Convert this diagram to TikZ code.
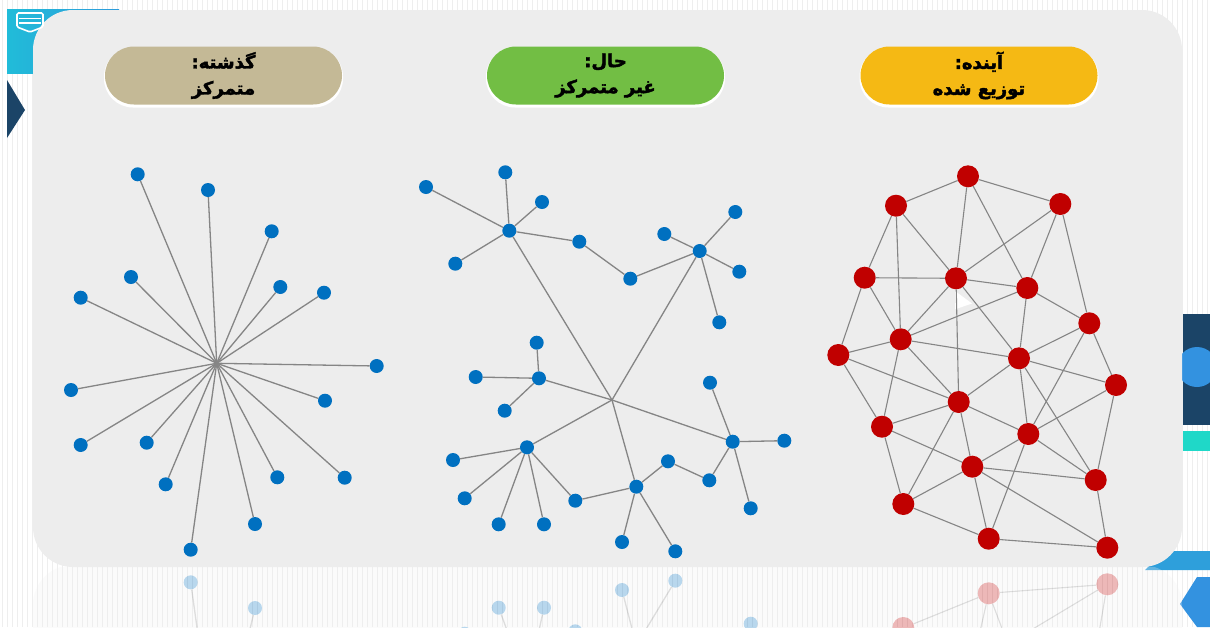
\documentclass[tikz,border=0pt]{standalone}
\usepackage{fontspec}
\newfontfamily\arabicfont[Script=Arabic, BoldFeatures={FakeBold=2.2}]{DejaVu Sans}
\TeXXeTstate=1
\definecolor{panelgray}{HTML}{EDEDED}
\definecolor{stripegray}{HTML}{EEEEEE}
\definecolor{nodeblue}{HTML}{0070C0}
\definecolor{nodered}{HTML}{C00000}
\definecolor{linkgray}{HTML}{858585}
\definecolor{pilltan}{HTML}{C4B996}
\definecolor{pillgreen}{HTML}{72BE44}
\definecolor{pillgold}{HTML}{F5B914}
\definecolor{navy}{HTML}{1B4467}
\definecolor{skyblue}{HTML}{3392E0}
\definecolor{tealbar}{HTML}{1FD8C8}
\definecolor{cyanleft}{HTML}{21BCD9}
\definecolor{cyanright}{HTML}{2D9BDB}
\definecolor{barblue}{HTML}{2E9FDB}

\tikzset{
  bnode/.style={circle, fill=nodeblue, inner sep=0pt, minimum size=14pt},
  rnode/.style={circle, fill=nodered, inner sep=0pt, minimum size=22pt},
  link/.style={draw=linkgray, line width=1.3pt},
  pill/.style={rounded corners=29pt, minimum width=237pt, minimum height=58pt,
    align=center, text=black, font=\arabicfont\bfseries\fontsize{18}{26}\selectfont},
  stripe/.style={draw=stripegray, line width=0.7pt}
}

% the three network sketches, reused for the mirrored copy below the panel
\newcommand\drawnetworks{%
  % centralised: a single star
  \coordinate (sc) at (216.7,363.3);
  \foreach \n/\x/\y in {1/137.7/174.3, 2/208/190, 3/271.7/231.3, 4/131/277,
      5/80.7/297.7, 6/280.3/287, 7/324/292.7, 8/376.7/366, 9/71/390,
      10/325/400.7, 11/80.7/445, 12/146.7/442.7, 13/165.7/484.3,
      14/277.3/477.3, 15/344.7/477.7, 16/255/524, 17/190.7/549.7}
    {\node[bnode] (s\n) at (\x,\y) {};}
  \foreach \n in {1,...,17} {\draw[link] (sc) -- (s\n);}
  % decentralised: several hubs joined at one point
  \coordinate (me) at (612,400);
  \foreach \n/\x/\y in {ma/509.3/230.7, ma1/426/187, ma2/505.3/172.3, ma3/542/202,
      ma4/455.3/263.7, mb/579.3/241.7, mc/630.3/278.7, md/699.7/251,
      md1/664.3/234, md2/735.3/212, md3/739.3/271.7, md4/719.3/322.3,
      mf/539/378.3, mf1/536.7/342.7, mf2/475.7/377, mf3/504.7/410.7,
      mg/527/447.3, mg1/453/460, mg2/464.7/498.3, mg3/498.7/524.3, mg4/544/524.3,
      mh/575.3/500.7, mi/636.3/486.7, mi1/622/542, mi2/675.3/551.3,
      mj/668/461.3, mk/709.3/480.3, ml/732.7/441.7,
      ml1/710/382.7, ml2/784.3/440.7, ml3/750.7/508.3}
    {\node[bnode] (\n) at (\x,\y) {};}
  \foreach \a/\b in {ma/ma1, ma/ma2, ma/ma3, ma/ma4, ma/mb, mb/mc, mc/md,
      md/md1, md/md2, md/md3, md/md4, ma/me, md/me, me/mf, mf/mf1, mf/mf2,
      mf/mf3, me/mg, mg/mg1, mg/mg2, mg/mg3, mg/mg4, mg/mh, mh/mi, me/mi,
      mi/mi1, mi/mi2, mi/mj, mj/mk, mk/ml, me/ml, ml/ml1, ml/ml2, ml/ml3}
    {\draw[link] (\a) -- (\b);}
  % distributed: a mesh
  \foreach \n/\x/\y in {1/968/176.3, 2/896/205.7, 3/1060.3/204, 4/864.7/277.7,
      5/956/278.3, 6/1027.3/288, 7/1089.3/323.3, 8/900.7/339.3, 9/838.3/355,
      10/1019/358.3, 11/1116/385, 12/958.7/402, 13/882/426.7, 14/1028.3/434,
      15/972.3/466.7, 16/1095.7/480, 17/903.3/504, 18/988.7/538.7, 19/1107.3/547.7}
    {\node[rnode] (r\n) at (\x,\y) {};}
  \fill[white] (955,291) -- (955,309.3) -- (972,303.5) -- cycle;
  \foreach \a/\b in {1/2, 1/3, 1/5, 1/6, 2/4, 2/8, 2/5, 3/5, 3/6, 3/7,
      4/5, 4/8, 4/9, 5/6, 5/8, 5/12, 5/10, 6/8, 6/10, 6/7, 7/10, 7/11, 7/14,
      8/9, 8/10, 8/12, 8/13, 9/12, 9/13, 10/12, 10/14, 10/11, 10/16,
      11/14, 11/16, 12/13, 12/14, 12/15, 12/17, 13/15, 13/17,
      14/15, 14/16, 14/18, 15/16, 15/17, 15/18, 15/19, 16/19, 17/18, 18/19}
    {\draw[link, line width=1.1pt] (r\a) -- (r\b);}
}

\begin{document}
\begin{tikzpicture}[x=1pt, y=-1pt]
\useasboundingbox (0,0) rectangle (1210,627);
% striped backdrop
\fill[white] (0,0) rectangle (1210,627);
\foreach \i in {0,...,242} {\draw[stripe] ({\i*5+2},0) -- ({\i*5+2},627);}

% side ornaments
\shade[left color=cyanleft, right color=cyanright] (7,9) rectangle (119,73);
\fill[navy] (7,80) -- (25,110) -- (7,138) -- cycle;
\fill[navy] (1183,314) rectangle (1210,425);
\fill[skyblue] (1197,367) circle (20);
\fill[tealbar] (1183,431) rectangle (1210,451);
\fill[barblue] (1165,551) -- (1210,551) -- (1210,570) -- (1145,570) -- cycle;
\fill[skyblue] (1180,604) -- (1197,577) -- (1210,577) -- (1210,627) -- (1197,627) -- cycle;

% mirrored copy under the panel
\begin{scope}
  \clip (0,567) rectangle (1210,627);
  \begin{scope}[shift={(0pt,-1132pt)}, yscale=-1, opacity=0.28, transparency group]
    \fill[panelgray!80!white, rounded corners=40pt] (33,10) rectangle (1182,567);
    \drawnetworks
  \end{scope}
\end{scope}

% main panel
\fill[panelgray, rounded corners=40pt] (33,10) rectangle (1182,567);

% badge icon
\begin{scope}[draw=white, line width=1.6pt]
  \draw[rounded corners=1.5pt] (17,13) -- (43,13) -- (43,27) -- (30,32) -- (17,27) -- cycle;
  \draw (19,18.5) -- (41,18.5);
  \draw (19,23) -- (41,23);
\end{scope}

% headings
\foreach \cx in {223.5, 605.5, 979}
  {\fill[white, rounded corners=29pt] (\cx-119.5,47.5) rectangle (\cx+119.5,107.5);}
\node[pill, fill=pilltan] (ha) at (223.5,75.5)
  {\beginR گذشته:\endR\\\beginR متمرکز\endR};
\node[pill, fill=pillgreen] (hb) at (605.5,75.5)
  {\beginR حال:\endR\\\beginR غیر متمرکز\endR};
\node[pill, fill=pillgold] (hc) at (979,75.5)
  {\beginR آینده:\endR\\\beginR توزیع شده\endR};

\drawnetworks
\end{tikzpicture}
\end{document}
